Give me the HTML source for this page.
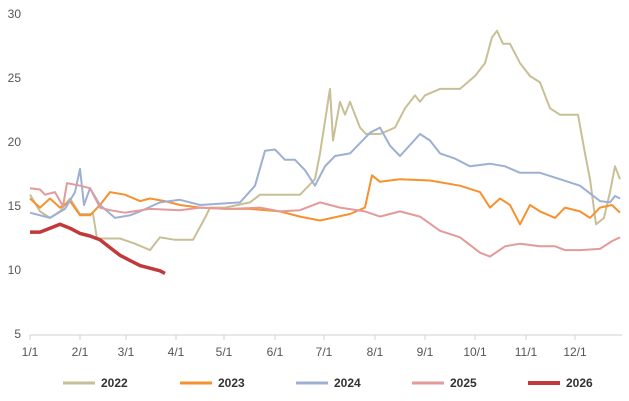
<!DOCTYPE html>
<html><head><meta charset="utf-8"><style>
body{margin:0;background:#fff;}
svg{display:block;font-family:"Liberation Sans",sans-serif;}
</style></head><body>
<svg id="s" width="629" height="401" viewBox="0 0 629 401">
<line x1="30" y1="335" x2="622" y2="335" stroke="#d0d0d0" stroke-width="1"/>
<g fill="#555" font-size="12" text-anchor="end">
<text x="21" y="18">30</text><text x="21" y="82">25</text><text x="21" y="146">20</text>
<text x="21" y="210">15</text><text x="21" y="274">10</text><text x="21" y="338">5</text>
</g>
<g id="ticks" fill="#555" font-size="12" text-anchor="middle"></g>
<g id="series" fill="none" stroke-linejoin="round"></g>
<g font-size="12" fill="#333" font-weight="bold">
<line x1="63" y1="383" x2="95" y2="383" stroke="#c8bf96" stroke-width="3"/><text x="101" y="387">2022</text>
<line x1="180" y1="383" x2="212" y2="383" stroke="#f5922f" stroke-width="3"/><text x="218" y="387">2023</text>
<line x1="296" y1="383" x2="328" y2="383" stroke="#9db0d4" stroke-width="3"/><text x="334" y="387">2024</text>
<line x1="412" y1="383" x2="444" y2="383" stroke="#e39a9a" stroke-width="3"/><text x="450" y="387">2025</text>
<line x1="528" y1="383" x2="560" y2="383" stroke="#c0393b" stroke-width="4"/><text x="566" y="387">2026</text>
</g>
</svg>
<script>
var NS="http://www.w3.org/2000/svg";
var tk=document.getElementById("ticks");
[[30,"1/1"],[80,"2/1"],[126,"3/1"],[176,"4/1"],[224,"5/1"],[275,"6/1"],[324,"7/1"],[375,"8/1"],[425,"9/1"],[475,"10/1"],[526,"11/1"],[575,"12/1"]].forEach(function(t){
 var l=document.createElementNS(NS,"line");l.setAttribute("x1",t[0]);l.setAttribute("x2",t[0]);l.setAttribute("y1",335);l.setAttribute("y2",340);l.setAttribute("stroke","#d0d0d0");tk.appendChild(l);
 var e=document.createElementNS(NS,"text");e.setAttribute("x",t[0]);e.setAttribute("y",356);e.textContent=t[1];tk.appendChild(e);});
function Y(v){return 334-(v-5)*12.9;}
var S=[
["#c8bf96",2,[30,15.8,40,14.5,50,14,60,14.5,70,15.5,80,14.3,93,14.3,97,12.4,120,12.4,135,12,150,11.5,160,12.5,175,12.3,193,12.3,205,14,210,14.8,225,14.8,250,15.2,260,15.8,300,15.8,315,17,320,19,326,22,330,24,333,20,340,23,345,22,350,23,360,21,366,20.5,380,20.5,395,21,405,22.5,415,23.5,420,23,425,23.5,440,24,460,24,475,25,485,26,492,28,497,28.5,503,27.5,510,27.5,520,26,530,25,540,24.5,550,22.5,560,22,570,22,578,22,585,19,590,17,596,13.5,604,14,610,16,615,18,620,17]],
["#f5922f",2,[30,15.5,40,14.8,50,15.5,60,14.8,70,15.3,80,14.2,90,14.2,100,15,110,16,125,15.8,140,15.3,150,15.5,165,15.3,180,15,200,14.8,225,14.7,250,14.7,280,14.5,300,14.1,320,13.8,350,14.3,365,14.8,372,17.3,380,16.8,400,17,430,16.9,460,16.5,480,16,490,14.8,500,15.5,510,15,520,13.5,530,15,540,14.5,555,14,565,14.8,580,14.5,590,14,600,14.8,612,15,620,14.4]],
["#9db0d4",2,[30,14.4,50,14,65,14.7,75,16,80,17.8,84,15,90,16.3,100,15,115,14,130,14.2,140,14.5,160,15.2,180,15.4,200,15,240,15.2,255,16.5,265,19.2,275,19.3,285,18.5,295,18.5,305,17.7,315,16.5,325,18,335,18.8,350,19,370,20.6,380,21,390,19.6,400,18.8,420,20.5,430,20,440,19,455,18.6,470,18,490,18.2,505,18,520,17.5,540,17.5,560,17,580,16.5,600,15.3,610,15.2,615,15.7,620,15.5]],
["#e39a9a",2,[30,16.3,40,16.2,45,15.8,55,16,63,14.9,67,16.7,80,16.5,90,16.3,100,14.8,110,14.6,125,14.4,150,14.7,180,14.6,200,14.8,230,14.7,260,14.8,280,14.5,300,14.6,320,15.2,340,14.8,365,14.5,380,14.1,400,14.5,420,14.1,440,13,460,12.5,480,11.3,490,11,505,11.8,520,12,540,11.8,555,11.8,565,11.5,580,11.5,600,11.6,612,12.2,620,12.5]],
["#c0393b",3.5,[30,12.9,40,12.9,50,13.2,60,13.5,70,13.2,80,12.8,90,12.6,100,12.3,110,11.7,120,11.1,130,10.7,140,10.3,150,10.1,160,9.9,165,9.7]]
];
var g=document.getElementById("series");
S.forEach(function(s){var p=[];for(var i=0;i<s[2].length;i+=2)p.push(s[2][i]+","+Y(s[2][i+1]).toFixed(1));
var e=document.createElementNS(NS,"polyline");e.setAttribute("points",p.join(" "));e.setAttribute("stroke",s[0]);e.setAttribute("stroke-width",s[1]);e.setAttribute("fill","none");g.appendChild(e);});
</script>
</body></html>
